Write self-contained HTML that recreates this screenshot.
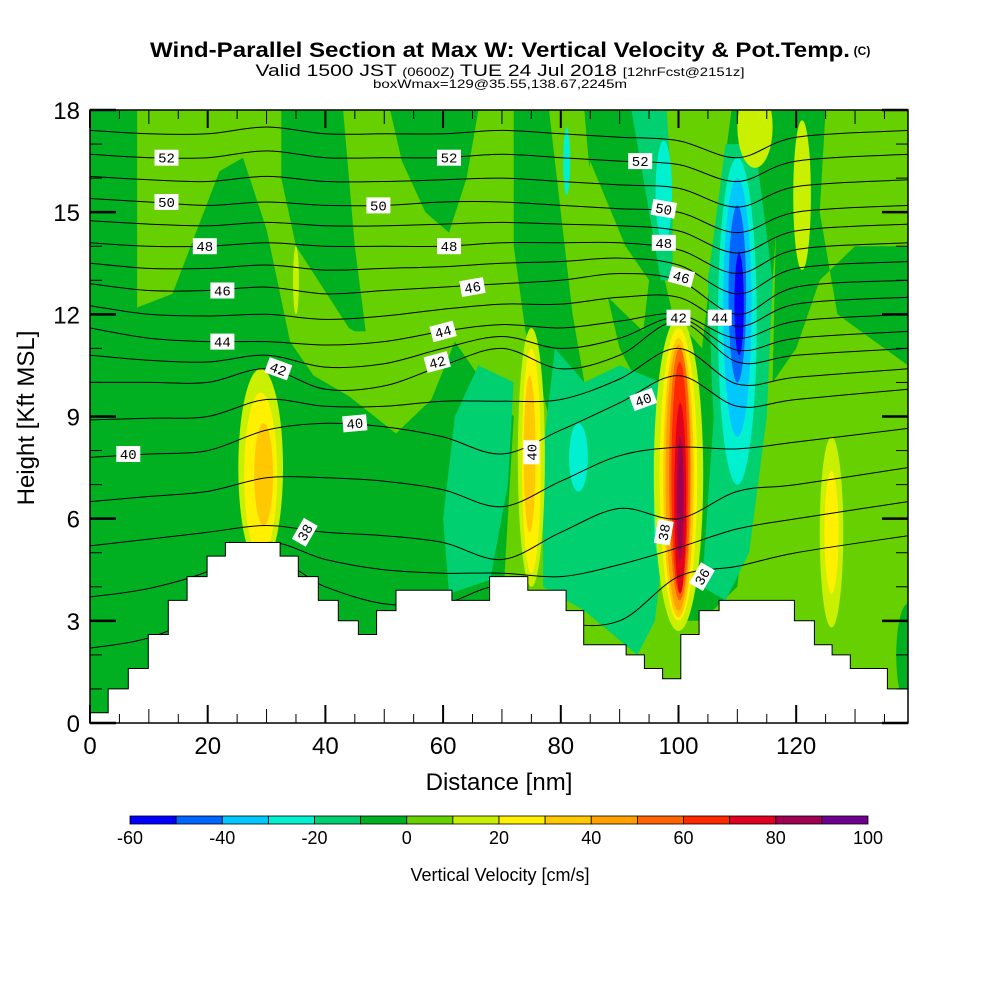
<!DOCTYPE html>
<html><head><meta charset="utf-8"><title>Wind-Parallel Section</title>
<style>
html,body{margin:0;padding:0;background:#fff;}
svg{display:block;font-family:"Liberation Sans",Arial,sans-serif;}
</style></head>
<body>
<svg id="chart" width="1000" height="1000" viewBox="0 0 1000 1000" xmlns="http://www.w3.org/2000/svg">
<defs><clipPath id="plotclip"><rect x="90" y="110" width="818" height="613"/></clipPath></defs>
<text x="500" y="57" text-anchor="middle" font-size="21" font-weight="bold" textLength="700" lengthAdjust="spacingAndGlyphs">Wind-Parallel Section at Max W: Vertical Velocity &amp; Pot.Temp.</text>
<text x="862" y="55" text-anchor="middle" font-size="12" font-weight="bold">(C)</text>
<text x="500" y="76" text-anchor="middle" font-size="17" textLength="489" lengthAdjust="spacingAndGlyphs">Valid 1500 JST <tspan font-size="12">(0600Z)</tspan> TUE 24 Jul 2018 <tspan font-size="12">[12hrFcst@2151z]</tspan></text>
<text x="500" y="88" text-anchor="middle" font-size="12" textLength="254" lengthAdjust="spacingAndGlyphs">boxWmax=129@35.55,138.67,2245m</text>
<g id="plot" clip-path="url(#plotclip)"></g>
<g id="axes"></g>
<g id="cbar"></g>
</svg>
<script>
// ---- data ----
const xNodes = [0,10,20,30,40,50,60,70,80,90,100,110,120,139];
const thetaLevels = [36,38,40,42,44,46,48,50,52];
const thetaHeights = [
 [2.2,2.5,3.3,4.8,4.0,3.5,3.5,4.0,3.0,3.0,4.3,4.6,5.0,5.5],
 [5.2,5.4,5.6,5.8,5.6,5.5,5.3,4.8,5.6,6.3,6.0,6.8,7.0,7.5],
 [7.8,7.9,8.0,8.6,8.8,8.7,8.4,7.9,8.6,9.4,10.2,9.3,9.5,9.8],
 [10.0,10.0,10.0,10.4,9.8,9.9,10.5,11.0,10.4,10.8,11.8,10.6,10.8,11.0],
 [11.6,11.3,11.2,11.2,11.1,11.2,11.5,11.7,11.6,11.8,12.0,11.3,11.8,12.0],
 [12.9,12.7,12.7,12.8,12.6,12.7,12.8,12.9,13.0,13.2,13.0,12.0,12.8,13.0],
 [14.1,14.0,14.0,14.1,14.0,14.0,14.0,14.1,14.1,14.1,13.9,13.2,13.9,14.1],
 [15.4,15.3,15.2,15.3,15.2,15.2,15.3,15.3,15.2,15.1,15.0,14.4,15.0,15.2],
 [16.7,16.6,16.6,16.8,16.6,16.6,16.6,16.7,16.6,16.5,16.4,15.9,16.5,16.7]
];
const terrainX = [0,3.1,6.5,9.9,13.3,16.5,19.9,23.0,32.3,35.4,38.8,42.2,45.6,48.7,52.0,61.5,67.9,74.4,80.9,83.9,87.3,91.1,94.2,97.3,100.4,103.5,106.9,116.3,119.7,123.1,126.1,129.2,135.5,139];
const terrainH = [0.3,1.0,1.6,2.6,3.6,4.3,4.9,5.3,4.9,4.3,3.6,3.0,2.6,3.3,3.9,3.6,4.3,3.9,3.3,2.3,2.3,2.0,1.6,1.3,2.6,3.3,3.6,3.6,3.0,2.3,2.0,1.6,1.0,0.7];
const labelTexts = ["52","52","52","50","50","50","48","48","48","46","46","46","44","44","44","42","42","42","40","40","40","40","38","38","36"];
const labelX = [13,61,93.5,13,49,97.5,19.5,61,97.5,22.5,65,100.5,22.5,60,107,32,59,100,6.5,45,75,94,36.5,97.5,104];
const labelY = [16.6,16.6,16.5,15.3,15.2,15.1,14.0,14.0,14.1,12.7,12.8,13.1,11.2,11.5,11.9,10.4,10.6,11.9,7.9,8.8,7.95,9.5,5.6,5.6,4.3];
const labelRot = [0,0,0,0,0,10,0,0,0,0,-10,15,0,-15,0,20,-15,0,0,-5,-90,-20,-60,-80,-60];
const cbarValues = [-60,-50,-40,-30,-20,-10,0,10,20,30,40,50,60,70,80,90,100];
const cbarColors = ["#0000ff","#0066ff","#00c8ff","#00f0d0","#00d070","#00b020","#66d000","#c8f000","#fff000","#ffc800","#ffa000","#ff6400","#ff2800","#e00020","#a00050","#700090"];
// regions: bin value, polygon (nm,kft)
const regionBins = [-10,-10,-10,-10,-10,-10,-10,-20,-20,-20,-20,0,0,0];
const regionPolys = [
 [[0,18],[8,18],[8,12.2],[14,12.6],[22,16.2],[26,16.6],[30,14.5],[34,11.2],[38,10.2],[44,9.6],[52,8.5],[58,9.5],[62,11.2],[66,10.2],[72,9],[70,3],[0,0]],
 [[32.5,18],[43,18],[45,14],[47,11.3],[44,11.6],[35,14],[32.5,16]],
 [[51,18],[66,18],[64,16],[61,14.4],[57,15],[53,16.5]],
 [[72,18],[78,18],[80,15],[82,12],[84,10],[78,9],[74,11.5],[72,14]],
 [[84,18],[93,18],[95,15],[99,12],[104,11],[106,14],[109,18],[118,18],[116,13],[113,9],[110,4],[104,3],[96,9],[90,11],[86,14]],
 [[117,18],[125,18],[124,15],[127,12],[139,10.5],[139,14],[130,14],[124,13],[120,11],[116,10]],
 [[100,3],[104,3],[106,8],[103,10],[101,8]],
 [[61,3.8],[68,4.2],[71,7],[72,10],[66,10.5],[62,9],[60,6]],
 [[77,4],[84,3.3],[93,2],[96,3],[98,6],[97,10],[90,10.5],[84,10],[79,11],[77,8]],
 [[92,18],[98,18],[99,15],[99,13],[97,13],[95,15]],
 [[104,4],[108,3.6],[112,5],[115,9],[116,13],[113,17],[108,17],[105,13],[106,9]],
 [[116,3.6],[122,3],[130,1.8],[139,1.5],[139,8],[132,9],[124,8.5],[118,8]],
 [[38,11],[43,10.2],[50,9.8],[56,10],[58,11],[50,11.5],[42,11.5]],
 [[85,16.5],[91,14],[95,13],[94,11.5],[88,12.5],[84,15]]
];
const blobX = [83,97.5,81,97,110,110,110,110,110.3,29,29,29.5,75,75,74.7,100,100,100,100,100.2,100.2,100.3,100.3,126,126,113,121,35,4,139];
const blobY = [7.8,15.6,16.5,6,11.5,11.8,12.2,12.6,12.3,7.5,7.3,7.3,7.8,7.7,7.9,7.3,7.3,7.2,7.2,7.3,7.2,6.6,6.6,5.6,5.6,17.5,15.5,13,2,2];
const blobRx = [1.6,1.4,0.6,1.2,4.5,3.3,2.4,1.5,0.8,3.8,2.8,1.6,2.3,1.6,1.0,4.2,3.2,2.6,2.2,1.8,1.4,1.0,0.6,2.0,1.2,3,1.5,0.5,3,2];
const blobRy = [1.0,1.5,1.0,1.2,5.5,4.8,3.8,2.6,1.5,2.9,2.4,1.5,3.8,3.3,2.3,4.6,4.3,4.1,3.9,3.7,3.4,2.8,1.8,2.8,1.8,1.2,2.2,1.0,1.5,1.5];
const blobBins = [-30,-30,-30,-30,-20,-30,-40,-50,-60,10,20,30,10,20,30,10,20,30,40,50,60,70,80,10,20,10,10,10,-10,-10];

// ---- scales ----
const X0=90,X1=908,Y0=723,Y1=110,XMAX=139,YMAX=18;
const sx = v => X0 + v*(X1-X0)/XMAX;
const sy = v => Y0 - v*(Y0-Y1)/YMAX;
const NS="http://www.w3.org/2000/svg";
function mk(tag,attrs,parent){const e=document.createElementNS(NS,tag);for(const k in attrs)e.setAttribute(k,attrs[k]);parent.appendChild(e);return e;}
const colorFor = b => cbarColors[Math.round((b+60)/10)];
const plot=document.getElementById('plot');

let bg=mk('rect',{x:X0,y:Y1,width:X1-X0,height:Y0-Y1,fill:colorFor(0)},plot);


// draw regions in order of increasing |value|: dark first then medium
const order=[...regionPolys.keys()];
order.forEach(i=>{
  const pts=regionPolys[i].map(p=>sx(p[0]).toFixed(1)+','+sy(p[1]).toFixed(1)).join(' ');
  const el=mk('polygon',{points:pts,fill:colorFor(regionBins[i]),'stroke-linejoin':'round'},plot);
  
  
});
blobX.forEach((x,i)=>{
  const el=mk('ellipse',{cx:sx(x),cy:sy(blobY[i]),rx:blobRx[i]*(X1-X0)/XMAX,ry:blobRy[i]*(Y0-Y1)/YMAX,fill:colorFor(blobBins[i])},plot);
  
  
});

// contour lines (every 1 K; odd levels averaged)
function smoothPath(pts){
  let d='M'+pts[0][0].toFixed(1)+','+pts[0][1].toFixed(1);
  for(let i=0;i<pts.length-1;i++){
    const p0=pts[Math.max(0,i-1)],p1=pts[i],p2=pts[i+1],p3=pts[Math.min(pts.length-1,i+2)];
    const c1=[p1[0]+(p2[0]-p0[0])/6,p1[1]+(p2[1]-p0[1])/6];
    const c2=[p2[0]-(p3[0]-p1[0])/6,p2[1]-(p3[1]-p1[1])/6];
    d+=' C'+c1[0].toFixed(1)+','+c1[1].toFixed(1)+' '+c2[0].toFixed(1)+','+c2[1].toFixed(1)+' '+p2[0].toFixed(1)+','+p2[1].toFixed(1);
  }
  return d;
}
const contourG=mk('g',{fill:'none',stroke:'#000','stroke-width':1},plot);


const lines=[];
for(let k=0;k<thetaLevels.length;k++){
  lines.push(thetaHeights[k]);
  if(k<thetaLevels.length-1) lines.push(thetaHeights[k].map((h,j)=>(h+thetaHeights[k+1][j])/2));
  else lines.push(thetaHeights[k].map(h=>h+0.7));
}
lines.forEach(arr=>{
  const pts=xNodes.map((x,j)=>[sx(x),sy(arr[j])]);
  const el=mk('path',{d:smoothPath(pts)},contourG);
  
  
});

// terrain
let tp='M'+sx(0)+','+sy(0);
terrainX.forEach((x,i)=>{
  const x2 = i<terrainX.length-1?terrainX[i+1]:XMAX;
  tp+=' L'+sx(x).toFixed(1)+','+sy(terrainH[i]).toFixed(1)+' L'+sx(x2).toFixed(1)+','+sy(terrainH[i]).toFixed(1);
});
tp+=' L'+sx(XMAX)+','+sy(0)+' Z';
const terr=mk('path',{d:tp,fill:'#fff',stroke:'#000','stroke-width':1},plot);



// contour labels
labelTexts.forEach((t,i)=>{
  const g=mk('g',{transform:`translate(${sx(labelX[i]).toFixed(1)},${sy(labelY[i]).toFixed(1)}) rotate(${labelRot[i]})`},plot);
  
  
  mk('rect',{x:-12,y:-8,width:24,height:16,fill:'#fff'},g);
  const tx=mk('text',{x:0,y:5,'text-anchor':'middle','font-size':14,'font-family':'"Liberation Mono",monospace'},g);
  tx.textContent=t;
});

// axes
const axes=document.getElementById('axes');
const frame=mk('rect',{x:X0,y:Y1,width:X1-X0,height:Y0-Y1,fill:'none',stroke:'#000','stroke-width':1.5},axes);


for(let v=0;v<=XMAX;v+=5){
  const len = v%20===0?18:(v%10===0?14:9);
  mk('line',{x1:sx(v),x2:sx(v),y1:Y0,y2:Y0-len,stroke:'#000','stroke-width':v%20===0?2:1},axes);
  mk('line',{x1:sx(v),x2:sx(v),y1:Y1,y2:Y1+len,stroke:'#000','stroke-width':v%20===0?2:1},axes);
  if(v%20===0){const t=mk('text',{x:sx(v),y:754,'text-anchor':'middle','font-size':24},axes);t.textContent=v;
    }
}
for(let v=0;v<=YMAX;v+=1){
  const len=v%3===0?26:12;
  mk('line',{x1:X0,x2:X0+len,y1:sy(v),y2:sy(v),stroke:'#000','stroke-width':v%3===0?2.5:1},axes);
  mk('line',{x1:X1,x2:X1-len,y1:sy(v),y2:sy(v),stroke:'#000','stroke-width':v%3===0?2.5:1},axes);
  if(v%3===0){const t=mk('text',{x:80,y:sy(v)+9,'text-anchor':'end','font-size':24},axes);t.textContent=v;
    }
}
let xt=mk('text',{x:499,y:790,'text-anchor':'middle','font-size':24},axes);xt.textContent='Distance [nm]';

let yt=mk('text',{x:0,y:0,'text-anchor':'middle','font-size':24,transform:'translate(34,418) rotate(-90)'},axes);yt.textContent='Height [Kft MSL]';


// colorbar
const cb=document.getElementById('cbar');
const CB0=130,CB1=868,CW=(CB1-CB0)/cbarColors.length;
cbarColors.forEach((c,i)=>{
  const r=mk('rect',{x:CB0+i*CW,y:816,width:CW,height:8,fill:c,stroke:'#000','stroke-width':0.8},cb);
  
  
});
cbarValues.forEach((v,i)=>{
  if(i%2===0){const t=mk('text',{x:CB0+i*CW,y:844,'text-anchor':'middle','font-size':18},cb);t.textContent=v;
    }
});
let ct=mk('text',{x:500,y:881,'text-anchor':'middle','font-size':18},cb);ct.textContent='Vertical Velocity [cm/s]';

</script>
</body></html>
